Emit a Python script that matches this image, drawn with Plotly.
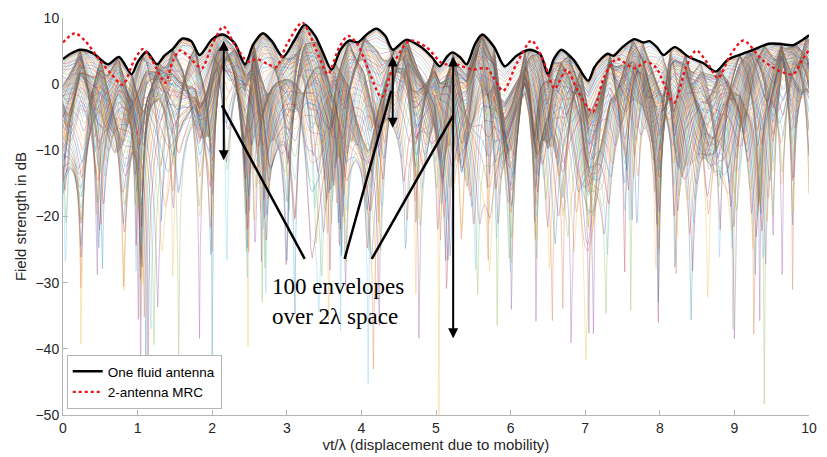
import numpy as np
import plotly.graph_objects as go

# ---- strongest-port envelope (black) and 2-antenna MRC (red), in dB ----
fa_x = [0.0, 0.1, 0.23, 0.4, 0.6, 0.75, 0.92, 1.0, 1.12, 1.26, 1.36, 1.47, 1.6, 1.72, 1.83,
        2.0, 2.14, 2.3, 2.44, 2.55, 2.68, 2.8, 2.95, 3.1, 3.24, 3.38, 3.48, 3.6, 3.72, 3.84,
        3.95, 4.08, 4.2, 4.32, 4.42, 4.6, 4.8, 4.95, 5.05, 5.15, 5.22, 5.32, 5.41, 5.52, 5.62,
        5.78, 5.92, 6.08, 6.25, 6.4, 6.5, 6.58, 6.68, 6.85, 7.04, 7.12, 7.21, 7.3, 7.38, 7.5,
        7.66, 7.78, 7.86, 7.96, 8.05, 8.2, 8.39, 8.58, 8.75, 8.91, 9.06, 9.25, 9.46, 9.6,
        9.79, 9.9, 10.0]
fa_db = [3.8, 4.6, 5.2, 4.7, 3.0, 4.1, 1.5, 3.3, 4.9, 3.0, 4.3, 5.3, 6.9, 6.5, 4.4,
         6.8, 7.5, 6.2, 3.0, 6.0, 7.7, 6.5, 4.1, 6.6, 9.0, 7.3, 4.9, 2.2, 5.2, 6.6,
         6.3, 7.6, 8.4, 7.3, 5.2, 6.7, 5.6, 4.0, 2.7, 4.2, 4.8, 4.1, 3.0, 6.0, 7.5,
         5.6, 2.7, 4.3, 5.2, 4.5, 1.5, 3.8, 5.2, 3.6, 0.5, 2.5, 3.8, 4.6, 4.3, 5.6,
         6.8, 6.3, 6.5, 5.6, 4.4, 5.6, 4.1, 3.2, 1.9, 3.7, 4.4, 5.2, 6.1, 6.1,
         5.9, 6.6, 7.4]

mrc_x = [0.0, 0.16, 0.3, 0.5, 0.65, 0.8, 0.95, 1.07, 1.2, 1.37, 1.47, 1.57, 1.7, 1.86,
         2.0, 2.15, 2.3, 2.48, 2.6, 2.75, 2.86, 3.0, 3.21, 3.4, 3.55, 3.7, 3.82, 3.95,
         4.1, 4.27, 4.45, 4.65, 4.87, 5.09, 5.27, 5.49, 5.68, 5.9, 6.08, 6.28, 6.4, 6.48,
         6.59, 6.75, 6.9, 7.1, 7.25, 7.42, 7.66, 7.82, 7.95, 8.19, 8.35, 8.49, 8.65, 8.78,
         8.95, 9.12, 9.38, 9.6, 9.79, 9.9, 10.0]
mrc_db = [6.3, 7.7, 6.5, 3.5, 1.5, -0.1, 3.5, 5.3, 3.5, 0.2, 3.5, 5.1, 4.0, 2.4,
          6.0, 8.7, 6.0, 3.4, 3.8, 3.0, 2.6, 6.0, 9.3, 5.0, 1.5, 5.5, 7.3, 6.0,
          2.0, -2.0, 3.5, 6.6, 5.6, 3.1, 3.0, 2.2, 2.4, -1.0, 3.1, 6.6, 4.5, 2.4,
         -0.7, 2.2, -1.0, -4.2, 1.0, 3.8, 2.4, 3.4, 2.5, -2.8, 2.5, 5.1, 3.0, 0.9,
          4.5, 6.6, 3.6, 2.0, 1.5, 3.5, 5.2]

# ---- multipath description used for the 100 port envelopes ----
path_angle_deg = [12, 47, 83, 118, 151, 197, 232, 268, 301, 339]
path_gain = [1.0, 0.8, 0.9, 0.7, 1.1, 0.6, 0.95, 0.75, 0.85, 0.65]
path_phase_deg = [30, 200, 110, 290, 60, 170, 250, 330, 15, 140]
n_ports = 100
port_span = 2.0          # wavelengths covered by the fluid antenna
antenna_tilt_deg = 90    # antenna axis relative to the direction of travel

disp = np.linspace(0.0, 10.0, 1001)
ports = np.linspace(0.0, port_span, n_ports)

th = np.deg2rad(np.array(path_angle_deg))
g = np.array(path_gain) / np.sqrt(np.sum(np.array(path_gain) ** 2))
ph = np.deg2rad(np.array(path_phase_deg))
tilt = np.deg2rad(antenna_tilt_deg)

phase = (2 * np.pi * (disp[None, :, None] * np.cos(th)[None, None, :]
                      + ports[:, None, None] * np.cos(th - tilt)[None, None, :])
         + ph[None, None, :])
field = np.abs(np.sum(g * np.exp(1j * phase), axis=2))
env_db = 20 * np.log10(np.maximum(field, 1e-4))

# reference each port's level to the strongest-port envelope
top = np.interp(disp, fa_x, fa_db)
env_db = env_db + (top - env_db.max(axis=0))[None, :]

matlab_colors = ['#0072BD', '#D95319', '#EDB120', '#7E2F8E', '#77AC30', '#4DBEEE', '#A2142F']

fig = go.Figure()
for k in range(n_ports):
    fig.add_trace(go.Scatter(
        x=disp, y=env_db[k], mode='lines',
        line=dict(color=matlab_colors[k % 7], width=0.5),
        opacity=0.6, showlegend=False, hoverinfo='skip'))

fig.add_trace(go.Scatter(
    x=fa_x, y=fa_db, mode='lines', name='One fluid antenna',
    line=dict(color='black', width=2.4, shape='spline', smoothing=0.8)))
fig.add_trace(go.Scatter(
    x=mrc_x, y=mrc_db, mode='lines', name='2-antenna MRC',
    line=dict(color='#e8141c', width=2.4, dash='dot', shape='spline', smoothing=0.8)))

# annotation arrows
arrow_style = dict(showarrow=True, arrowhead=2, arrowsize=1, arrowwidth=2,
                   arrowcolor='black', arrowside='end+start', text='',
                   xref='x', yref='y', axref='x', ayref='y')
for ax_, y_top, y_bot in [(2.155, 6.8, -11.5), (4.42, 4.4, -6.6), (5.23, 4.4, -38.4)]:
    fig.add_annotation(x=ax_, y=y_bot, ax=ax_, ay=y_top, **arrow_style)

for x0, y0, x1, y1 in [(2.13, -3.2, 3.24, -26.4), (4.40, -1.0, 3.775, -26.4),
                       (5.23, -4.7, 4.14, -26.4)]:
    fig.add_shape(type='line', x0=x0, y0=y0, x1=x1, y1=y1, xref='x', yref='y',
                  line=dict(color='black', width=2.5))

fig.add_annotation(x=2.78, y=-32.8, xref='x', yref='y', xanchor='left', yanchor='middle',
                   text='100 envelopes<br>over 2λ space', showarrow=False, align='left',
                   font=dict(family='Liberation Serif', size=23, color='black'))

axis_common = dict(showline=True, linecolor='#b5b5b5', linewidth=1, mirror=False,
                   ticks='inside', ticklen=5, tickcolor='#b5b5b5', showgrid=False,
                   zeroline=False, tickfont=dict(size=14, color='#262626'))
fig.update_xaxes(range=[0, 10], tickvals=list(range(0, 11)),
                 title=dict(text='vt/λ (displacement due to mobility)', standoff=1,
                            font=dict(size=15, color='#262626')), **axis_common)
fig.update_yaxes(range=[-50, 10], tickvals=list(range(-50, 11, 10)),
                 title=dict(text='Field strength in dB', standoff=5,
                            font=dict(size=15, color='#262626')), **axis_common)

fig.update_layout(
    width=827, height=457, margin=dict(l=63, r=17, t=10, b=38),
    plot_bgcolor='white', paper_bgcolor='white',
    font=dict(family='Liberation Sans', size=14, color='#262626'),
    legend=dict(x=0.005, y=0.015, xanchor='left', yanchor='bottom',
                bgcolor='white', bordercolor='#b5b5b5', borderwidth=1,
                font=dict(size=13.5, color='black'), itemwidth=30,
                tracegroupgap=0),
)

fig.write_html('out.html')
